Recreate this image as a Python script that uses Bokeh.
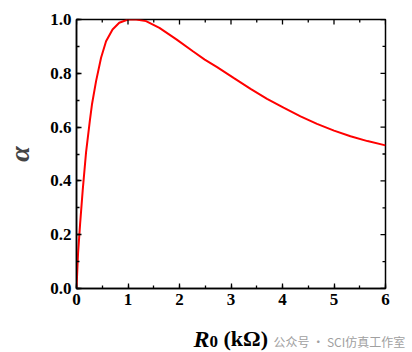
import math
from bokeh.plotting import figure
from bokeh.layouts import column, row
from bokeh.models import Range1d, Label, SingleIntervalTicker
from bokeh.embed import file_html
from bokeh.resources import INLINE

# data
r0 = [0.0, 0.03, 0.07, 0.12, 0.185, 0.26, 0.30, 0.38, 0.477, 0.574, 0.70,
      0.83, 1.0, 1.16, 1.35, 1.61, 1.94, 2.26, 2.49, 2.73, 3.05, 3.38, 3.70,
      4.02, 4.35, 4.67, 5.0, 5.32, 5.65, 6.0]
alpha = [0.0, 0.13, 0.24, 0.364, 0.505, 0.625, 0.684, 0.771, 0.858, 0.919,
         0.963, 0.988, 1.0, 1.0, 0.994, 0.969, 0.926, 0.882, 0.851, 0.823,
         0.783, 0.742, 0.705, 0.672, 0.640, 0.612, 0.587, 0.566, 0.548, 0.532]
x_ticks = [0, 1, 2, 3, 4, 5, 6]
y_ticks = [0.0, 0.2, 0.4, 0.6, 0.8, 1.0]
x_minor = [(a + b) / 2 for a, b in zip(x_ticks[:-1], x_ticks[1:])]
y_minor = [round((a + b) / 2, 2) for a, b in zip(y_ticks[:-1], y_ticks[1:])]

FONT = "Liberation Serif"

p = figure(width=412, height=318, output_backend="svg", toolbar_location=None,
           x_range=Range1d(x_ticks[0], x_ticks[-1]),
           y_range=Range1d(y_ticks[0], y_ticks[-1]),
           min_border_left=76, min_border_right=27, min_border_top=19,
           min_border_bottom=30)
p.outline_line_color = "black"
p.outline_line_width = 1.5
p.grid.visible = False

p.line(r0, alpha, line_color="#ff0000", line_width=2)

for ax in (p.xaxis[0], p.yaxis[0]):
    ax.axis_line_color = "black"
    ax.axis_line_width = 1.5
    ax.major_tick_line_color = "black"
    ax.minor_tick_line_color = "black"
    ax.major_tick_line_width = 1.3
    ax.minor_tick_line_width = 1.3
    ax.major_tick_in = 5
    ax.major_tick_out = 0
    ax.minor_tick_in = 3
    ax.minor_tick_out = 0
    ax.major_label_text_font = FONT
    ax.major_label_text_font_style = "bold"
    ax.major_label_text_font_size = "17px"
    ax.major_label_text_color = "black"
    ax.major_label_standoff = 5

p.xaxis.ticker = SingleIntervalTicker(interval=1, num_minor_ticks=2)
p.yaxis.ticker = SingleIntervalTicker(interval=0.2, num_minor_ticks=2)
p.xaxis.major_label_overrides = {v: str(v) for v in x_ticks}
p.yaxis.major_label_overrides = {v: f"{v:.1f}" for v in y_ticks}

p.yaxis.axis_label = "α"
p.yaxis.axis_label_text_font = FONT
p.yaxis.axis_label_text_font_style = "bold italic"
p.yaxis.axis_label_text_font_size = "28px"
p.yaxis.axis_label_standoff = 12

# mirrored inward ticks on top and right edges
top_y = y_ticks[-1]
right_x = x_ticks[-1]
p.ray(x=x_ticks, y=[top_y] * len(x_ticks), length=5, length_units="screen",
      angle=-math.pi / 2, line_color="black", line_width=1.3)
p.ray(x=x_minor, y=[top_y] * len(x_minor), length=3, length_units="screen",
      angle=-math.pi / 2, line_color="black", line_width=1.3)
p.ray(x=[right_x] * len(y_ticks), y=y_ticks, length=5, length_units="screen",
      angle=math.pi, line_color="black", line_width=1.3)
p.ray(x=[right_x] * len(y_minor), y=y_minor, length=3, length_units="screen",
      angle=math.pi, line_color="black", line_width=1.3)

# strip below the plot holding the x axis title and the watermark
q = figure(width=412, height=34, output_backend="svg", toolbar_location=None,
           x_range=Range1d(0, 412), y_range=Range1d(0, 34),
           min_border=0, outline_line_color=None)
q.axis.visible = False
q.grid.visible = False

q.add_layout(Label(x=193, y=14, x_units="screen", y_units="screen", text="R",
                   text_font=FONT, text_font_style="bold italic",
                   text_font_size="24px", text_color="black",
                   text_baseline="alphabetic"))
q.add_layout(Label(x=209, y=11, x_units="screen", y_units="screen", text="0",
                   text_font=FONT, text_font_style="bold",
                   text_font_size="17px", text_color="black",
                   text_baseline="alphabetic"))
q.add_layout(Label(x=223, y=14, x_units="screen", y_units="screen",
                   text="(kΩ)", text_font=FONT, text_font_style="bold",
                   text_font_size="22px", text_color="black",
                   text_baseline="alphabetic"))
q.add_layout(Label(x=273, y=11, x_units="screen", y_units="screen",
                   text="公众号 · SCI仿真工作室",
                   text_font="Noto Sans CJK SC", text_font_size="12px",
                   text_color="#a0a0a0", text_baseline="alphabetic"))

layout = column(p, row(q, spacing=0), spacing=0)
open("out.html", "w").write(file_html(layout, INLINE))
